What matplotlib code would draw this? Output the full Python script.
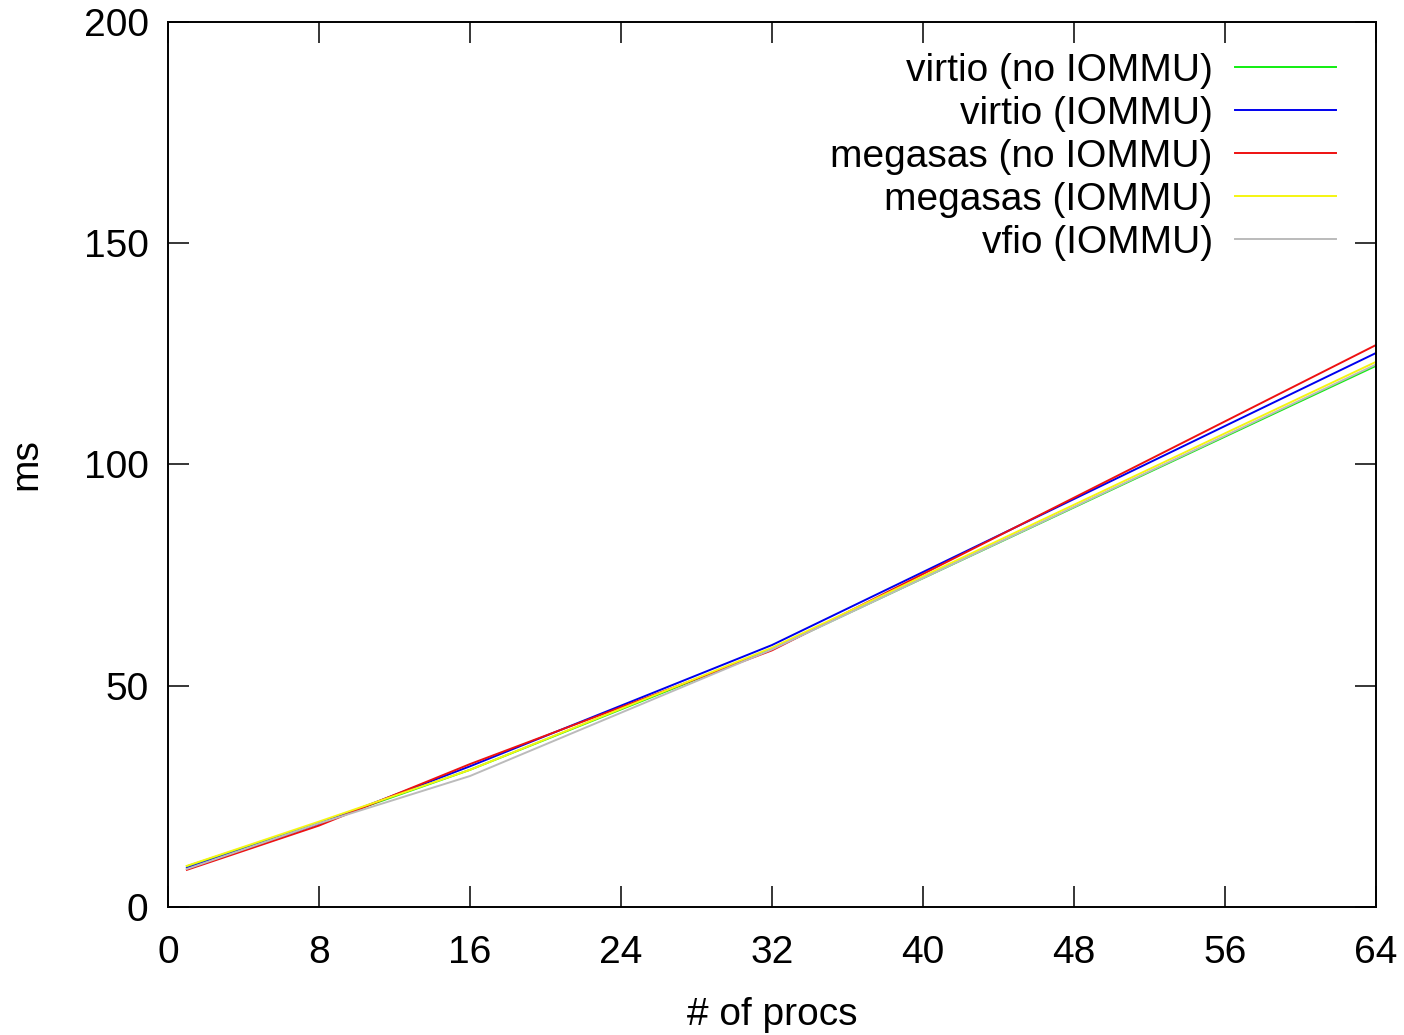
import matplotlib
matplotlib.use("Agg")
import matplotlib.pyplot as plt

plt.rcParams["font.family"] = ["Liberation Sans", "DejaVu Sans"]

procs = [1, 8, 16, 32, 64]
virtio_no_iommu = [9.2, 19.0, 31.0, 58.3, 122.3]
virtio_iommu = [8.8, 18.8, 31.8, 59.2, 125.2]
megasas_no_iommu = [8.4, 18.4, 32.3, 58.0, 127.0]
megasas_iommu = [9.3, 19.3, 31.0, 58.6, 123.2]
vfio_iommu = [8.6, 18.9, 29.6, 58.2, 122.6]

series = [
    ("virtio (no IOMMU)", virtio_no_iommu, "#11ee11"),
    ("virtio (IOMMU)", virtio_iommu, "#0000ee"),
    ("megasas (no IOMMU)", megasas_no_iommu, "#ee1111"),
    ("megasas (IOMMU)", megasas_iommu, "#f5f511"),
    ("vfio (IOMMU)", vfio_iommu, "#bbbbbb"),
]

fig = plt.figure(figsize=(14.04, 10.35), dpi=100)
ax = fig.add_axes([168 / 1404, 1 - 907 / 1035, (1376 - 168) / 1404, (907 - 22) / 1035])

for label, vals, color in series:
    ax.plot(procs, vals, color=color, lw=1.4, label=label)

ax.set_xlim(0, 64)
ax.set_ylim(0, 200)
ax.set_xticks(range(0, 65, 8))
ax.set_yticks(range(0, 201, 50))
ax.tick_params(direction="in", length=15, width=1.1, labelsize=28,
               top=True, right=True)
ax.tick_params(axis="x", pad=20)
ax.tick_params(axis="y", pad=14)
for s in ax.spines.values():
    s.set_linewidth(1.4)

ax.set_xlabel("# of procs", fontsize=28, labelpad=19)
ax.set_ylabel("ms", fontsize=28, labelpad=28)

ax.legend(loc="upper right", frameon=False, fontsize=28, markerfirst=False,
          handlelength=2.6, handletextpad=0.57, labelspacing=0.18,
          borderaxespad=0.0, borderpad=0.0, bbox_to_anchor=(1 - 40 / 1208, 1 - 31 / 885))

fig.savefig("out.png", dpi=100)
